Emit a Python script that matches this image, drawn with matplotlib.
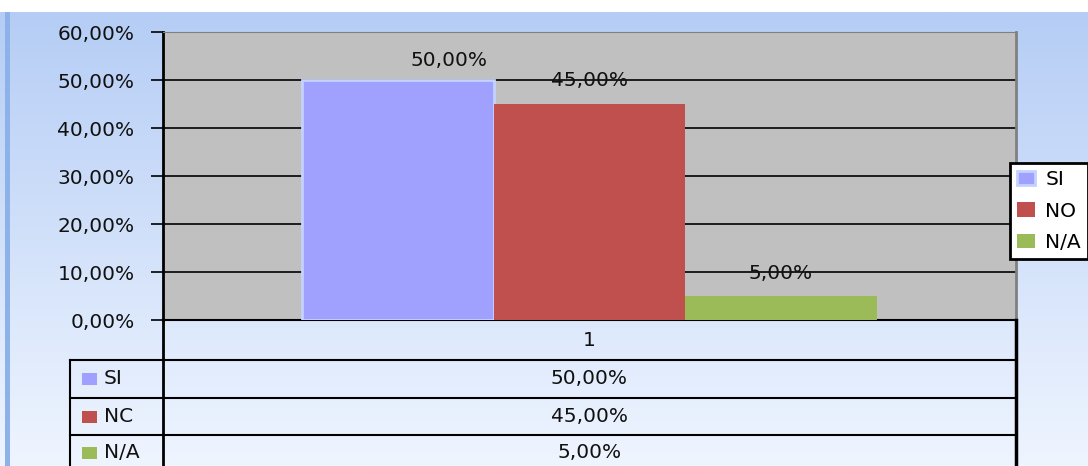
import matplotlib.pyplot as plt
import numpy as np
from matplotlib.patches import Rectangle

categories = ["SI", "NO", "N/A"]
table_labels = ["SI", "NC", "N/A"]
values = [0.50, 0.45, 0.05]
colors = ["#a0a0ff", "#c0504d", "#9bbb59"]
edge_colors = ["#c4d2ff", "#c0504d", "#9bbb59"]
yticks = [0.0, 0.1, 0.2, 0.3, 0.4, 0.5, 0.6]
group_label = "1"

W, H = 1088, 466


def pct(v):
    return ("%.2f" % (v * 100)).replace(".", ",") + "%"


plt.rcParams["font.family"] = ["DejaVu Sans"]
fig = plt.figure(figsize=(W / 100, H / 100), dpi=100)
fig.patch.set_facecolor("white")

# background in pixel coordinates
bg = fig.add_axes([0, 0, 1, 1], zorder=0)
bg.set_xlim(0, W)
bg.set_ylim(H, 0)
bg.axis("off")
top = np.array([0xb5, 0xcd, 0xf5]) / 255
bottom = np.array([0xef, 0xf5, 0xff]) / 255
t = np.linspace(0, 1, 200)[:, None]
grad = (top * (1 - t) + bottom * t)[:, None, :]
bg.imshow(grad, extent=[0, W, H, 12], aspect="auto", interpolation="bilinear")
bg.add_patch(Rectangle((5, 12), 5, H - 12, color="#8db2ea", lw=0))

# plot area
x0, x1, y0, y1 = 163, 1016, 32, 320
ax = fig.add_axes([x0 / W, (H - y1) / H, (x1 - x0) / W, (y1 - y0) / H], zorder=2)
ax.set_facecolor("#c0c0c0")
ax.set_xlim(-0.5, 0.5)
ax.set_ylim(0, 0.6)
ax.set_yticks(yticks)
ax.set_yticklabels([pct(v) for v in yticks], fontsize=14.5, color="#111111")
ax.tick_params(axis="y", length=8.5, width=1.2, direction="out", pad=12)
ax.set_xticks([])
for y in yticks[1:-1]:
    ax.axhline(y, color="black", lw=1.2, zorder=1)
ax.spines["top"].set_color("#808080")
ax.spines["right"].set_color("#808080")
ax.spines["right"].set_linewidth(2)
ax.spines["left"].set_linewidth(2)
ax.spines["bottom"].set_linewidth(1.5)

bw = 0.2245
xs = [-bw, 0, bw]
offsets = [(37, 14), (0, 17), (0, 16)]
handles = []
for i in range(len(values)):
    b = ax.bar(xs[i], values[i], width=bw, color=colors[i], edgecolor=edge_colors[i],
               linewidth=2 if i == 0 else 0, zorder=3, label=categories[i])
    handles.append(b)
    ax.annotate(pct(values[i]), (xs[i], values[i]), xytext=offsets[i],
                textcoords="offset points", ha="center", va="center",
                fontsize=14.5, color="#111111", zorder=4)

# legend at right, clipped by the figure edge
leg = fig.legend(handles=handles, labels=categories, loc="upper left",
                 bbox_to_anchor=(1010 / W, 1 - 163 / H), fontsize=14.5,
                 frameon=True, fancybox=False, edgecolor="black", framealpha=1,
                 handlelength=0.9, handleheight=0.7, handletextpad=0.5,
                 borderpad=0.35, labelspacing=0.62, borderaxespad=0)
leg.get_frame().set_linewidth(2)

# data table drawn on top of background
tb = fig.add_axes([0, 0, 1, 1], zorder=3)
tb.set_xlim(0, W)
tb.set_ylim(H, 0)
tb.axis("off")
tb.patch.set_alpha(0)
kw = dict(color="black", lw=1.5)
tb.plot([x0, x0], [y1, H], color="black", lw=2)
tb.plot([x1, x1], [y1, H], color="black", lw=2.5)
tb.plot([70, 70], [360, H], **kw)
row_y = [360, 398, 435]
for y in row_y:
    tb.plot([70, x1], [y, y], **kw)
tb.text((x0 + x1) / 2, 340, group_label, ha="center", va="center", fontsize=14.5, color="#111111")
row_bottoms = row_y[1:] + [470]
for i in range(len(values)):
    yc = (row_y[i] + row_bottoms[i]) / 2
    tb.add_patch(Rectangle((82, yc - 6), 15, 12, color=colors[i], lw=0))
    tb.text(104, yc, table_labels[i], ha="left", va="center", fontsize=14.5, color="#111111")
    tb.text((x0 + x1) / 2, yc, pct(values[i]), ha="center", va="center", fontsize=14.5, color="#111111")

fig.savefig("out.png", dpi=100)
